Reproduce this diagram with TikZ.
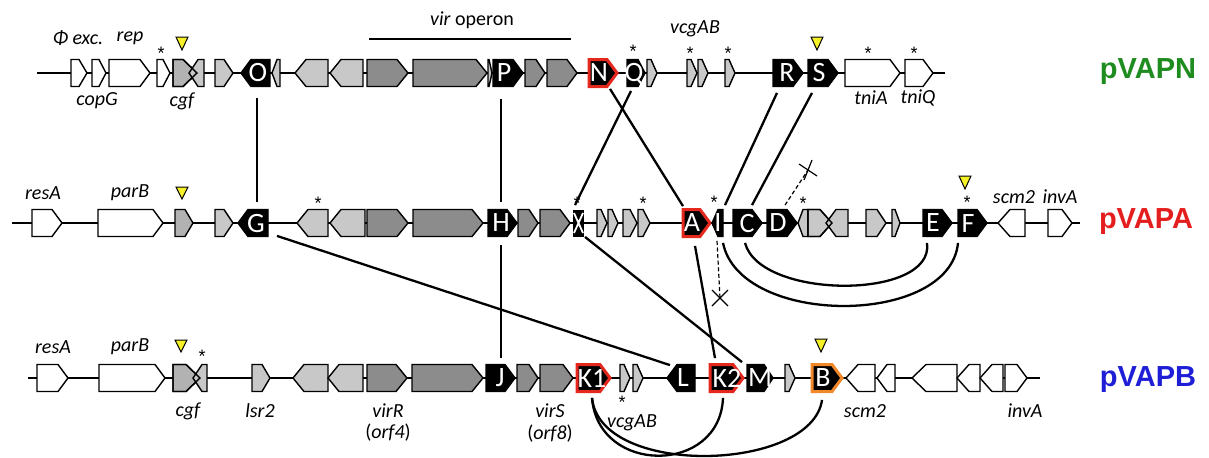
\documentclass[tikz,border=0pt]{standalone}
\usepackage{fontspec}
\setmainfont{Carlito}
\newfontfamily\arialf{Liberation Sans}
\usetikzlibrary{calc}
\definecolor{lightg}{RGB}{200,200,200}
\definecolor{midg}{RGB}{178,178,178}
\definecolor{darkg}{RGB}{140,140,140}
\definecolor{redo}{RGB}{228,40,30}
\definecolor{orangeo}{RGB}{240,135,40}
\definecolor{triy}{RGB}{245,240,40}
\definecolor{pgreen}{RGB}{30,140,30}
\definecolor{pred}{RGB}{228,30,30}
\definecolor{pblue}{RGB}{30,30,215}
\tikzset{
  gene/.style={draw=black, line width=0.7pt, line join=miter},
  wh/.style={fill=white}, lg/.style={fill=lightg}, mg/.style={fill=midg},
  dg/.style={fill=darkg}, bk/.style={fill=black},
  bkr/.style={fill=black, draw=redo, line width=1.5pt},
  bko/.style={fill=black, draw=orangeo, line width=1.5pt},
  bb/.style={line width=0.7pt},
  glet/.style={text=white, font=\fontsize{14}{14}\selectfont, inner sep=0pt, minimum height=13.5pt, minimum width=6pt},
  lab/.style={font=\itshape\fontsize{10}{11}\selectfont, inner sep=0pt},
  astk/.style={font=\arialf\fontsize{9}{9}\selectfont, inner sep=0pt, anchor=north},
  trist/.style={fill=triy, draw=black, line width=0.5pt, line join=miter},
  conn/.style={line width=1.15pt},
  dsh/.style={line width=0.6pt, dash pattern=on 2pt off 1.3pt},
  crs/.style={line width=0.6pt},
  plab/.style={font=\arialf\bfseries\fontsize{14.5}{15}\selectfont, inner sep=0pt}
}
\newcommand\gR[5]{\draw[gene,#4] (#1,#3-13.5) -- (#2-#5,#3-13.5) -- (#2,#3) -- (#2-#5,#3+13.5) -- (#1,#3+13.5) -- cycle;}
\newcommand\gL[5]{\draw[gene,#4] (#2,#3-13.5) -- (#1+#5,#3-13.5) -- (#1,#3) -- (#1+#5,#3+13.5) -- (#2,#3+13.5) -- cycle;}
\newcommand\st[3]{\node[astk] (#1) at (#2,#3-3) {*};}
\newcommand\tri[3]{\draw[trist] (#1-6,#2) -- (#1+6,#2) -- (#1,#3) -- cycle;}
\begin{document}
\begin{tikzpicture}[x=0.5pt,y=-0.5pt]
\useasboundingbox (0,0) rectangle (1209,457);
% ---------- backbones
\draw[bb] (37,73) -- (945,73);
\draw[bb] (12,223) -- (1080,223);
\draw[bb] (28,378) -- (1040,378);
% ---------- top row pVAPN
\gR{71}{87}{73}{wh}{8}
\gR{92}{106}{73}{wh}{7}
\gR{109}{150}{73}{wh}{10}
\gR{157}{170}{73}{wh}{7}
\gR{173}{197}{73}{mg}{14}
\gL{189}{204}{73}{lg}{9}
\gR{173}{197}{73}{}{14}
\gR{215}{233}{73}{lg}{9}
\gL{241}{270}{73}{bk}{10}
\gL{272}{280}{73}{lg}{5}
\gL{295}{328}{73}{lg}{11}
\gL{330}{363}{73}{lg}{11}
\gR{367}{408}{73}{dg}{11}
\gR{413}{487}{73}{dg}{11}
\gR{488}{492}{73}{lg}{3}
\gR{493}{523}{73}{bk}{10}
\gR{525}{545}{73}{dg}{9}
\gR{547}{577}{73}{dg}{10}
\gR{589}{617}{73}{bkr}{10}
\gR{627}{645}{73}{bk}{7}
\gR{647}{657}{73}{lg}{6}
\gR{687}{697}{73}{lg}{6}
\gR{698}{708}{73}{lg}{6}
\gR{725}{735}{73}{lg}{6}
\gR{773}{803}{73}{bk}{10}
\gR{808}{838}{73}{bk}{10}
\gR{845}{900}{73}{wh}{10}
\gR{905}{933}{73}{wh}{10}
% ---------- middle row pVAPA
\gR{32}{62}{223}{wh}{10}
\gR{98}{163}{223}{wh}{10}
\gR{175}{193}{223}{mg}{8}
\gR{215}{233}{223}{lg}{9}
\gL{238}{268}{223}{bk}{10}
\gL{297}{328}{223}{lg}{11}
\gL{330}{365}{223}{lg}{11}
\gR{367}{408}{223}{dg}{11}
\gR{413}{483}{223}{dg}{11}
\gR{488}{517}{223}{bk}{10}
\gR{518}{538}{223}{dg}{9}
\gR{540}{570}{223}{dg}{10}
\fill[black] (573,209.5) rectangle (584,236.5);
\draw[white, line width=0.9pt] (574,213) -- (583,233) (583,213) -- (574,233);
\gR{597}{607}{223}{lg}{6}
\gR{608}{618}{223}{lg}{6}
\gR{623}{637}{223}{lg}{7}
\gR{638}{650}{223}{lg}{7}
\gR{683}{710}{223}{bkr}{10}
\gL{712}{723}{223}{bk}{6}
\gR{733}{762}{223}{bk}{10}
\gR{767}{797}{223}{bk}{10}
\gL{798}{808}{223}{lg}{5}
\gR{808}{832}{223}{lg}{12}
\gL{826}{848}{223}{lg}{10}
\gR{808}{832}{223}{}{12}
\gR{866}{886}{223}{lg}{9}
\gR{892}{900}{223}{lg}{5}
\gR{923}{952}{223}{bk}{10}
\gR{958}{987}{223}{bk}{10}
\gL{998}{1025}{223}{wh}{12}
\gR{1048}{1072}{223}{wh}{10}
% ---------- bottom row pVAPB
\gR{37}{68}{378}{wh}{10}
\gR{99}{165}{378}{wh}{10}
\gR{173}{200}{378}{mg}{14}
\gL{193}{207}{378}{lg}{9}
\gR{173}{200}{378}{}{14}
\gR{252}{270}{378}{lg}{8}
\gL{293}{328}{378}{lg}{11}
\gL{328}{363}{378}{lg}{11}
\gR{367}{407}{378}{dg}{11}
\gR{412}{483}{378}{dg}{11}
\gR{486}{515}{378}{bk}{10}
\gR{517}{538}{378}{dg}{9}
\gR{540}{573}{378}{dg}{10}
\gR{577}{610}{378}{bkr}{10}
\gR{620}{630}{378}{lg}{6}
\gR{633}{643}{378}{lg}{6}
\gL{667}{695}{378}{bk}{10}
\gR{710}{743}{378}{bkr}{10}
\gR{747}{773}{378}{bk}{9}
\gR{785}{795}{378}{lg}{6}
\gR{812}{842}{378}{bko}{10}
\gL{846}{875}{378}{wh}{12}
\gL{877}{895}{378}{wh}{10}
\gL{912}{957}{378}{wh}{14}
\gL{957}{980}{378}{wh}{12}
\gL{980}{1003}{378}{wh}{12}
\gR{1005}{1027}{378}{wh}{10}
% ---------- letter nodes
\node[glet] (O) at (258,73) {O};
\node[glet] (P) at (504,73) {P};
\node[glet] (N) at (599,73) {N};
\node[glet] (Q) at (634,74) {Q};
\node[glet] (R) at (787,73) {R};
\node[glet] (S) at (819,73) {S};
\node[glet] (G) at (256,223) {G};
\node[glet] (H) at (501,223) {H};
\node[inner sep=0pt, minimum height=13.5pt, minimum width=5pt] (X) at (578,223) {};
\node[glet] (A) at (692,223) {A};
\node[glet] (I) at (718,223) {I};
\node[glet] (C) at (747,223) {C};
\node[glet] (D) at (778,223) {D};
\node[glet] (E) at (933,223) {E};
\node[glet] (F) at (968,224) {F};
\node[glet] (J) at (500,378) {J};
\node[glet] (K1) at (592,378) {K1};
\node[glet] (L) at (683,378) {L};
\node[glet] (K2) at (727,378) {K2};
\node[glet] (M) at (760,378) {M};
\node[glet] (B) at (823,378) {B};
% ---------- stars
\st{s1}{161}{50} \st{s2}{633}{48} \st{s3}{690}{50} \st{s4}{728}{50} \st{s5}{868}{50} \st{s6}{914}{50}
\st{s7}{318}{200} \st{s8}{577}{200} \st{s9}{643}{200} \st{s10}{714}{199} \st{s11}{803}{200} \st{s12}{967}{199}
\st{s13}{202}{353} \st{s14}{622}{399}
% ---------- yellow triangles
\tri{182}{37}{50} \tri{817}{37}{50}
\tri{182}{187}{199} \tri{965}{176}{189}
\tri{181}{340}{352} \tri{821}{339}{352}
% ---------- labels top
\node[lab] (l1) at (78,38) {Φ exc.};
\node[lab] (l2) at (130,38) {rep};
\node[lab] (l3) at (97,101) {copG};
\node[lab] (l4) at (182,101) {cgf};
\node[lab, font=\fontsize{10}{11}\selectfont] (l5) at (472,20) {\textit{vir} operon};
\draw[bb] (369,39) -- (571,39);
\node[lab] (l6) at (695,29) {vcgAB};
\node[lab] (l7) at (871,98) {tniA};
\node[lab] (l8) at (918,98) {tniQ};
\node[plab, text=pgreen] (pn) at (1148,72) {pVAPN};
% ---------- labels middle
\node[lab] (m1) at (43,193) {resA};
\node[lab] (m2) at (130,193) {parB};
\node[lab] (m3) at (1014,197) {scm2};
\node[lab] (m4) at (1060,197) {invA};
\node[plab, text=pred] (pa) at (1146,222) {pVAPA};
% ---------- labels bottom
\node[lab] (b1) at (53,347) {resA};
\node[lab] (b2) at (130,347) {parB};
\node[lab] (b3) at (188,411) {cgf};
\node[lab] (b4) at (260,411) {lsr2};
\node[lab] (b5) at (388,411) {virR};
\node[lab, font=\fontsize{10}{11}\selectfont] (b6) at (388,433) {(\textit{orf4})};
\node[lab] (b7) at (550,411) {virS};
\node[lab, font=\fontsize{10}{11}\selectfont] (b8) at (550,434) {(\textit{orf8})};
\node[lab] (b9) at (632,423) {vcgAB};
\node[lab] (b10) at (865,411) {scm2};
\node[lab] (b11) at (1025,411) {invA};
\node[plab, text=pblue] (pb) at (1148,380) {pVAPB};
% ---------- connectors
\draw[conn] ($(O.south)+(-1,11)$) -- ($(G.north)+(1,-7)$);
\draw[conn] ($(P.south)+(-3,12)$) -- ($(H.north)+(0,-7)$);
\draw[conn] ($(H.south)+(0,8)$) -- ($(J.north)+(1,-6)$);
\draw[conn] ($(N.south)+(11,2)$) -- ($(A.north)+(-9,-3)$);
\draw[conn] ($(Q.south)+(-3,3)$) -- ($(X.north)+(-3,-4)$);
\draw[conn] ($(R.south)+(-10,6)$) -- ($(I.north)+(7,-4)$);
\draw[conn] ($(S.south)+(-7,6)$) -- ($(C.north)+(5,-4)$);
\draw[conn] ($(G.south)+(21,-1)$) -- ($(L.north)+(-13,1)$);
\draw[conn] ($(X.south)+(7,0)$) -- ($(M.north)+(-18,-2)$);
\draw[conn] ($(A.south)+(3,9)$) -- ($(K2.north)+(-12,-6)$);
\draw[conn] ($(C.south)+(-2,6)$) .. controls (760,300) and (935,300) .. ($(E.south)+(-6,6)$);
\draw[conn] ($(I.south)+(5,6)$) .. controls (740,327) and (950,327) .. ($(F.south)+(-10,5)$);
\draw[conn] ($(K1.south)+(0,6)$) .. controls (598,475) and (720,475) .. ($(K2.south)+(-4,6)$);
\draw[conn] ($(K1.south)+(0,6)$) .. controls (600,478) and (812,472) .. ($(B.south)+(-1,8)$);
% dashed with crosses
\coordinate (xI) at (720,298);
\coordinate (xD) at (808,170);
\draw[dsh] ($(I.south)+(-1,4)$) -- (xI);
\draw[dsh] ($(D.north)+(7,-4)$) -- (xD);
\draw[crs] ($(xI)+(-8,-8)$) -- ($(xI)+(8,8)$) ($(xI)+(-8,8)$) -- ($(xI)+(8,-8)$);
\draw[crs] ($(xD)+(-9,-6)$) -- ($(xD)+(9,6)$) ($(xD)+(-4,10)$) -- ($(xD)+(4,-10)$);
\end{tikzpicture}
\end{document}
